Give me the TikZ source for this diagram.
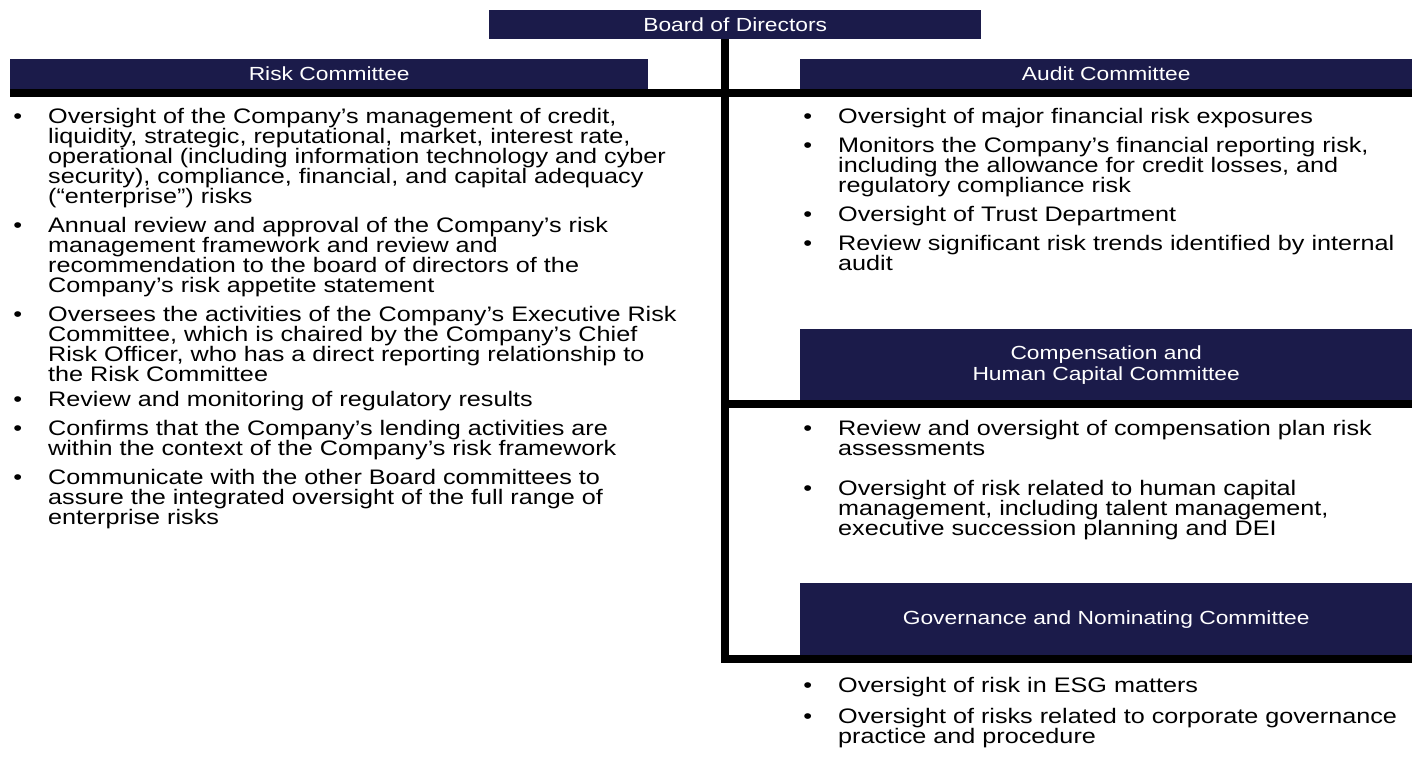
\documentclass[tikz,border=0pt]{standalone}
\usepackage{fontspec}
\setmainfont{Liberation Sans}[FakeStretch=1.2]
\usetikzlibrary{positioning}
\definecolor{navy}{RGB}{27,27,74}
\newcommand{\bul}{\llap{\textbullet\hspace{26pt}}}

\begin{document}
\begin{tikzpicture}[
    x=1pt, y=-1pt,
    font=\fontsize{21}{20}\selectfont,
    head/.style={
        fill=navy,
        text=white,
        inner sep=0pt,
        align=center,
        anchor=north west,
        font=\fontsize{19}{21}\selectfont
    },
    item/.style={anchor=north west, align=left, inner sep=0pt},
    bar/.style={line width=8pt, draw=black}
]
\useasboundingbox (0,0) rectangle (1418,757);

% Headers
\node[head, minimum width=492pt, minimum height=29pt] (board) at (489,10) {Board of Directors};
\node[head, minimum width=638pt, minimum height=30pt] (risk) at (10,59) {Risk Committee};
\node[head, minimum width=612pt, minimum height=30pt] (audit) at (800,59) {Audit Committee};
\node[head, minimum width=612pt, minimum height=71pt] (comp) at (800,329) {Compensation and\\Human Capital Committee};
\node[head, minimum width=612pt, minimum height=72pt] (gov) at (800,583) {Governance and Nominating Committee};

% Risk Committee items
\node[item] (r1) at (48,108) {\bul Oversight of the Company’s management of credit,\\
liquidity, strategic, reputational, market, interest rate,\\
operational (including information technology and cyber\\
security), compliance, financial, and capital adequacy\\
(“enterprise”) risks};
\node[item] (r2) at ([yshift=-9pt]r1.south west) {\bul Annual review and approval of the Company’s risk\\
management framework and review and\\
recommendation to the board of directors of the\\
Company’s risk appetite statement};
\node[item] (r3) at ([yshift=-9pt]r2.south west) {\bul Oversees the activities of the Company’s Executive Risk\\
Committee, which is chaired by the Company’s Chief\\
Risk Officer, who has a direct reporting relationship to\\
the Risk Committee};
\node[item] (r4) at ([yshift=-9pt]r3.south west) {\bul Review and monitoring of regulatory results};
\node[item] (r5) at ([yshift=-9pt]r4.south west) {\bul Confirms that the Company’s lending activities are\\
within the context of the Company’s risk framework};
\node[item] (r6) at ([yshift=-9pt]r5.south west) {\bul Communicate with the other Board committees to\\
assure the integrated oversight of the full range of\\
enterprise risks};

% Audit Committee items
\node[item] (a1) at (838,108) {\bul Oversight of major financial risk exposures};
\node[item] (a2) at ([yshift=-9pt]a1.south west) {\bul Monitors the Company’s financial reporting risk,\\
including the allowance for credit losses, and\\
regulatory compliance risk};
\node[item] (a3) at ([yshift=-9pt]a2.south west) {\bul Oversight of Trust Department};
\node[item] (a4) at ([yshift=-9pt]a3.south west) {\bul Review significant risk trends identified by internal\\
audit};

% Compensation items
\node[item] (c1) at (838,420) {\bul Review and oversight of compensation plan risk\\
assessments};
\node[item] (c2) at ([yshift=-24pt]c1.south west) {\bul Oversight of risk related to human capital\\
management, including talent management,\\
executive succession planning and DEI};

% Governance items
\node[item] (g1) at (838,677) {\bul Oversight of risk in ESG matters};
\node[item] (g2) at ([yshift=-11pt]g1.south west) {\bul Oversight of risks related to corporate governance\\
practice and procedure};

% Lines
\coordinate (stem) at (725,39);
\coordinate (cline) at ([yshift=-4pt]comp.south east);
\draw[bar] ([yshift=-4pt]risk.south west) -- ([yshift=-4pt]audit.south east);
\draw[bar] (stem |- cline) -- (cline);
\draw[bar] (stem) |- ([yshift=-4pt]gov.south east);

\end{tikzpicture}
\end{document}
